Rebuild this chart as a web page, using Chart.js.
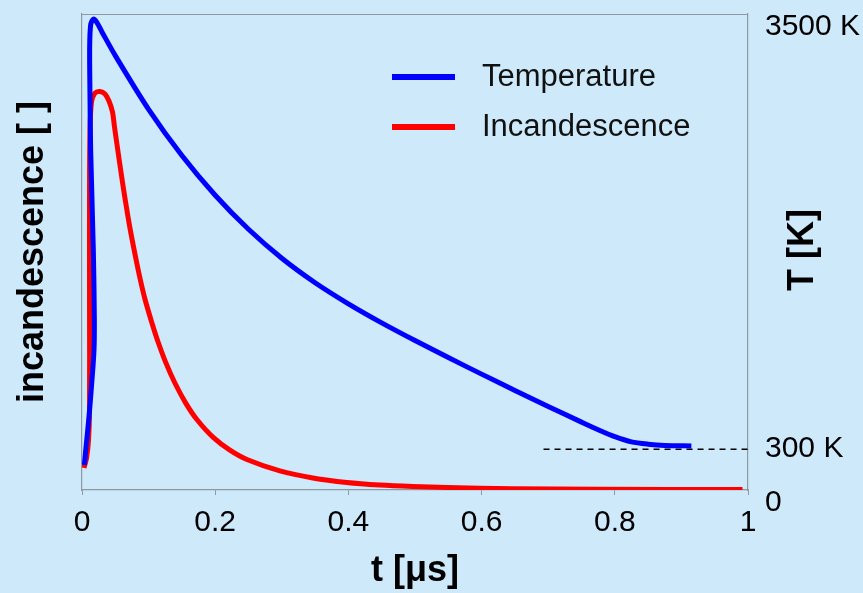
<!DOCTYPE html>
<html>
<head>
<meta charset="utf-8">
<script src="https://cdn.jsdelivr.net/npm/chart.js@4.4.1/dist/chart.umd.min.js"></script>
<style>
  html, body { margin: 0; padding: 0; background: #cde9fa; }
  #wrap { width: 863px; height: 593px; }
</style>
</head>
<body>
<div id="wrap"><canvas id="myChart" width="863" height="593"></canvas></div>
<script>
// time in microseconds
var tempTime = [0.0035, 0.0056, 0.0105, 0.0146, 0.018, 0.0185, 0.017, 0.013, 0.012, 0.0115, 0.013, 0.017, 0.022,
                0.03, 0.05, 0.10, 0.15, 0.20, 0.25, 0.30, 0.35, 0.40, 0.45, 0.50, 0.55, 0.60, 0.65,
                0.70, 0.75, 0.775, 0.80, 0.825, 0.85, 0.875, 0.915];
var tempValues = [184, 294, 537, 787, 1029, 1272, 1765, 2500, 2900, 3250, 3420, 3462, 3440,
                  3368, 3194, 2799, 2459, 2167, 1917, 1704, 1524, 1369, 1229, 1099, 974, 852, 732,
                  614, 499, 443, 392, 354, 337, 328, 324];

var incTime = [0.0030, 0.0068, 0.0098, 0.0113, 0.0113, 0.0113, 0.0120, 0.0143, 0.0195, 0.0270, 0.0345,
               0.0405, 0.0458, 0.0488, 0.0533, 0.0585, 0.0645, 0.0720, 0.0795, 0.0870, 0.0945, 0.1050,
               0.1140, 0.1260, 0.1395, 0.1560, 0.1725, 0.1966, 0.2221, 0.2476, 0.2971, 0.3466, 0.3976,
               0.4471, 0.4966, 0.5476, 0.6466, 0.7772, 0.9918];
var incValues = [0.0462, 0.0672, 0.1050, 0.1681, 0.3992, 0.6092, 0.7563, 0.8151, 0.8340, 0.8372, 0.8319,
                 0.8172, 0.7941, 0.7626, 0.7185, 0.6681, 0.6134, 0.5504, 0.4958, 0.4454, 0.4013, 0.351,
                 0.312, 0.267, 0.2248, 0.182, 0.148, 0.111, 0.0836, 0.064, 0.040, 0.0252, 0.0158,
                 0.0105, 0.0074, 0.0053, 0.0027, 0.0015, 0.0008];

// 300 K reference line
var refTime = [0.693, 1.0];
var refTemp = [300, 300];

var xTickValues = [0, 0.2, 0.4, 0.6, 0.8, 1];
var xTickLabels = ['0', '0.2', '0.4', '0.6', '0.8', '1'];
var tTickValues = [0, 300, 3500];
var tTickLabels = [['', '0'], '300 K', ['', '3500 K']];

var seriesNames = ['Temperature', 'Incandescence'];

function pts(xs, ys) {
    return xs.map(function (x, i) { return { x: x, y: ys[i] }; });
}

var axisGray = '#8d9aa4';
var fontFamily = "'Liberation Sans', Arial, sans-serif";

// legend drawn inside the plot, top border and right title
var extras = {
    id: 'extras',
    afterDraw: function (chart) {
        var ctx = chart.ctx, a = chart.chartArea;
        ctx.save();
        ctx.strokeStyle = axisGray;
        ctx.lineWidth = 1.2;
        ctx.beginPath();
        ctx.moveTo(a.left, a.top + 0.5);
        ctx.lineTo(a.right, a.top + 0.5);
        ctx.stroke();

        ctx.font = '31px ' + fontFamily;
        ctx.textBaseline = 'middle';
        ctx.textAlign = 'left';
        for (var i = 0; i < 2; i++) {
            var ds = chart.data.datasets[i];
            var y = 77 + i * 50;
            ctx.strokeStyle = ds.borderColor;
            ctx.lineWidth = 6;
            ctx.beginPath();
            ctx.moveTo(392, y);
            ctx.lineTo(455, y);
            ctx.stroke();
            ctx.fillStyle = '#111';
            ctx.fillText(ds.label, 482, y);
        }

        ctx.translate(803, 250);
        ctx.rotate(-Math.PI / 2);
        ctx.textAlign = 'center';
        ctx.fillStyle = '#000';
        ctx.font = 'bold 36px ' + fontFamily;
        ctx.fillText('T [K]', 0, 0);
        ctx.restore();
    }
};

var ctx = document.getElementById('myChart').getContext('2d');
var chart = new Chart(ctx, {
    type: 'scatter',
    data: {
        datasets: [{
            label: seriesNames[0],
            data: pts(tempTime, tempValues),
            borderColor: '#0000ff',
            borderWidth: 5,
            showLine: true,
            pointRadius: 0,
            tension: 0.3,
            borderJoinStyle: 'round',
            yAxisID: 'yT'
        }, {
            label: seriesNames[1],
            data: pts(incTime, incValues),
            borderColor: '#ff0000',
            borderWidth: 5,
            showLine: true,
            pointRadius: 0,
            tension: 0.3,
            borderJoinStyle: 'round',
            yAxisID: 'yI'
        }, {
            label: 'ref',
            data: pts(refTime, refTemp),
            borderColor: '#000',
            borderWidth: 1.5,
            borderDash: [6, 5],
            showLine: true,
            pointRadius: 0,
            yAxisID: 'yT'
        }]
    },
    options: {
        responsive: false,
        animation: false,
        layout: { padding: { top: 14, left: 0, right: 0, bottom: 0 } },
        plugins: { legend: { display: false }, tooltip: { enabled: false } },
        scales: {
            x: {
                type: 'linear',
                min: 0, max: 1,
                afterBuildTicks: function (s) { s.ticks = xTickValues.map(function (v) { return { value: v }; }); },
                afterFit: function (s) { s.height = 103; s.paddingLeft = 0; s.paddingRight = 0; },
                grid: { drawOnChartArea: false, tickLength: 5, color: axisGray },
                border: { color: axisGray, width: 1.2 },
                ticks: {
                    padding: 10,
                    color: '#000',
                    font: { family: fontFamily, size: 30 },
                    callback: function (v) { return xTickLabels[xTickValues.indexOf(v)]; }
                },
                title: {
                    display: true,
                    text: 't [\u03bcs]',
                    color: '#000',
                    font: { family: fontFamily, size: 36, weight: 'bold' },
                    padding: { top: 0, bottom: 0 }
                }
            },
            yI: {
                type: 'linear',
                position: 'left',
                min: 0, max: 1,
                afterFit: function (s) { s.width = 82; s.paddingTop = 0; s.paddingBottom = 0; },
                grid: { display: false },
                border: { color: axisGray, width: 1.2 },
                ticks: { display: false },
                title: {
                    display: true,
                    text: 'incandescence [ ]',
                    color: '#000',
                    font: { family: fontFamily, size: 36, weight: 'bold' },
                    padding: { top: 11, bottom: 0 }
                }
            },
            yT: {
                type: 'linear',
                position: 'right',
                min: 0, max: 3500,
                afterBuildTicks: function (s) { s.ticks = tTickValues.map(function (v) { return { value: v }; }); },
                afterFit: function (s) { s.width = 115; s.paddingTop = 0; s.paddingBottom = 0; },
                grid: { display: false },
                border: { color: axisGray, width: 1.2 },
                ticks: {
                    padding: 9,
                    color: '#000',
                    font: { family: fontFamily, size: 30, lineHeight: 0.85 },
                    callback: function (v) { return tTickLabels[tTickValues.indexOf(v)]; }
                }
            }
        }
    },
    plugins: [extras]
});
</script>
</body>
</html>
